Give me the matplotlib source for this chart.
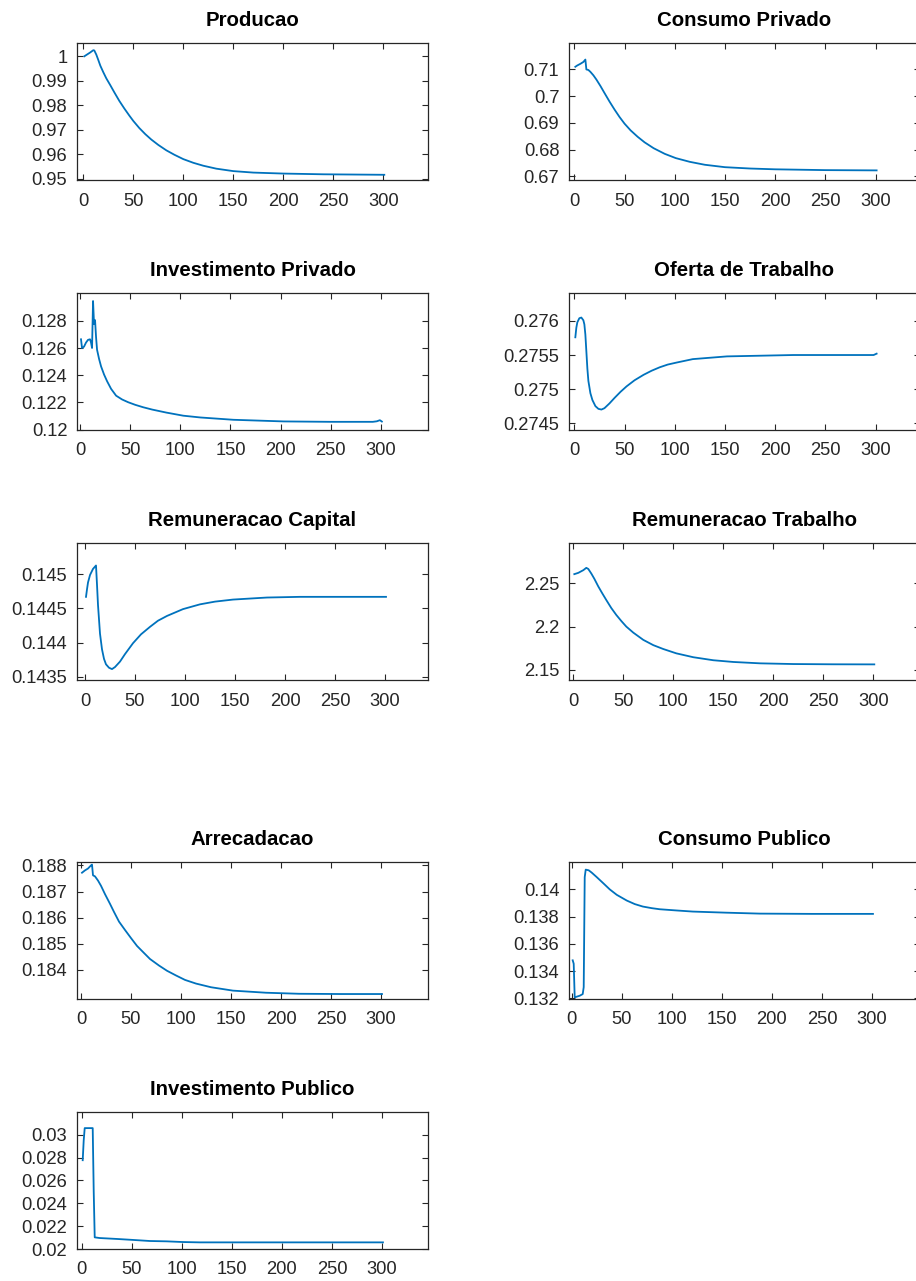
import matplotlib
matplotlib.use("Agg")
import matplotlib.pyplot as plt
from matplotlib.ticker import FixedLocator, FuncFormatter

plt.rcParams['font.family'] = ['Liberation Sans', 'DejaVu Sans']

# trajetorias simuladas (periodo, valor)
producao_t = [1, 4, 7, 10, 11, 13, 15, 17, 20, 23, 27, 31, 36, 41, 46, 50, 56, 62, 68, 75, 83, 91, 100, 110,
              120, 133, 150, 170, 200, 240, 301]
producao = [1.0000, 1.0008, 1.0016, 1.0025, 1.0024, 1.0007, 0.9985, 0.9962, 0.9935, 0.9910, 0.9882, 0.9853,
            0.9818, 0.9787, 0.9758, 0.9736, 0.9707, 0.9682, 0.9660, 0.9638, 0.9616, 0.9598, 0.9580, 0.9565,
            0.9553, 0.9541, 0.9531, 0.9525, 0.9521, 0.9518, 0.9516]

cons_priv_t = [1, 3, 6, 9, 11, 12, 14, 16, 19, 22, 26, 30, 35, 40, 45, 50, 56, 63, 70, 79, 90, 101, 115, 130,
               150, 175, 200, 250, 301]
cons_priv = [0.7110, 0.7115, 0.7121, 0.7128, 0.7137, 0.7100, 0.7098, 0.7091, 0.7078, 0.7062, 0.7038, 0.7012,
             0.6980, 0.6950, 0.6922, 0.6897, 0.6872, 0.6848, 0.6827, 0.6805, 0.6784, 0.6768, 0.6754, 0.6743,
             0.6734, 0.6729, 0.6726, 0.6723, 0.6722]

inv_priv_t = [1, 2, 4, 6, 8, 10, 11, 12, 13, 14, 15, 16, 17, 19, 21, 24, 27, 31, 36, 42, 48, 55, 63, 72, 86,
              103, 120, 153, 203, 250, 292, 296, 299, 301]
inv_priv = [0.12664, 0.12600, 0.12610, 0.12640, 0.12660, 0.12664, 0.12640, 0.12600, 0.12945, 0.12775, 0.12805,
            0.12680, 0.12587, 0.12520, 0.12465, 0.12405, 0.12356, 0.12300, 0.12250, 0.12222, 0.12202, 0.12183,
            0.12165, 0.12148, 0.12126, 0.12103, 0.12090, 0.12073, 0.12061, 0.12058, 0.12058, 0.12062, 0.12070,
            0.12060]

oferta_t = [1, 2, 3, 5, 7, 9, 10, 11, 12, 13, 14, 16, 18, 21, 24, 27, 30, 35, 40, 46, 52, 60, 69, 77, 85, 93,
            102, 118, 135, 152, 185, 218, 260, 298, 301]
oferta = [0.27576, 0.27590, 0.27598, 0.27604, 0.27605, 0.27601, 0.27595, 0.27580, 0.27555, 0.27530, 0.27512,
          0.27494, 0.27484, 0.27475, 0.27471, 0.27470, 0.27472, 0.27479, 0.27487, 0.27496, 0.27504, 0.27513,
          0.27521, 0.27527, 0.27532, 0.27536, 0.27539, 0.27544, 0.27546, 0.27548, 0.27549, 0.27550, 0.27550,
          0.27550, 0.27552]

rem_cap_t = [1, 2, 3, 5, 8, 11, 12, 13, 15, 17, 19, 21, 24, 27, 30, 35, 40, 44, 48, 56, 65, 73, 82, 90, 98,
             115, 130, 148, 182, 215, 260, 301]
rem_cap = [0.14467, 0.14478, 0.14488, 0.14499, 0.14508, 0.14513, 0.14485, 0.14455, 0.14413, 0.14390, 0.14376,
           0.14368, 0.14363, 0.14361, 0.14364, 0.14372, 0.14383, 0.14391, 0.14399, 0.14412, 0.14423, 0.14432,
           0.14439, 0.14444, 0.14449, 0.14456, 0.14460, 0.14463, 0.14466, 0.14467, 0.14467, 0.14467]

rem_trab_t = [1, 5, 10, 13, 15, 18, 21, 23, 25, 29, 33, 38, 43, 48, 53, 60, 70, 80, 90, 103, 120, 140, 160,
              187, 220, 260, 301]
rem_trab = [2.2608, 2.2623, 2.2654, 2.2681, 2.2668, 2.2615, 2.2555, 2.2510, 2.2465, 2.2385, 2.2308, 2.2215,
            2.2135, 2.2065, 2.2000, 2.1930, 2.1846, 2.1785, 2.1740, 2.1690, 2.1645, 2.1610, 2.1590, 2.1574,
            2.1566, 2.1563, 2.1562]

arrec_t = [1, 4, 7, 10, 11, 12, 14, 17, 20, 24, 29, 33, 38, 44, 50, 56, 63, 69, 78, 86, 95, 104, 115, 130, 152,
           185, 218, 260, 301]
arrec = [0.18772, 0.18781, 0.18788, 0.18800, 0.18803, 0.18762, 0.18758, 0.18742, 0.18722, 0.18690, 0.18653,
         0.18622, 0.18585, 0.18553, 0.18522, 0.18492, 0.18465, 0.18442, 0.18417, 0.18397, 0.18379, 0.18362,
         0.18348, 0.18334, 0.18321, 0.18313, 0.18309, 0.18308, 0.18308]

cons_pub_t = [1, 2, 3, 5, 8, 11, 12, 13, 14, 17, 20, 25, 32, 38, 45, 55, 63, 71, 80, 88, 105, 121, 154, 188,
              240, 301]
cons_pub = [0.13479, 0.13454, 0.13207, 0.13212, 0.13219, 0.13231, 0.13282, 0.14090, 0.14145, 0.14140, 0.14123,
            0.14090, 0.14042, 0.14000, 0.13960, 0.13918, 0.13892, 0.13874, 0.13862, 0.13854, 0.13845, 0.13837,
            0.13829, 0.13822, 0.13820, 0.13820]

inv_pub_t = [1, 2, 3, 11, 12, 13, 18, 35, 52, 68, 85, 101, 118, 200, 301]
inv_pub = [0.02777, 0.02950, 0.03058, 0.03058, 0.02503, 0.02102, 0.02096, 0.02088, 0.02079, 0.02070, 0.02067,
           0.02061, 0.02058, 0.02058, 0.02058]

x_ticks = [0, 50, 100, 150, 200, 250, 300]

panels = [
    ("Producao", producao_t, producao, [0.95, 0.96, 0.97, 0.98, 0.99, 1.0]),
    ("Consumo Privado", cons_priv_t, cons_priv, [0.67, 0.68, 0.69, 0.70, 0.71]),
    ("Investimento Privado", inv_priv_t, inv_priv, [0.120, 0.122, 0.124, 0.126, 0.128]),
    ("Oferta de Trabalho", oferta_t, oferta, [0.2745, 0.275, 0.2755, 0.276]),
    ("Remuneracao Capital", rem_cap_t, rem_cap, [0.1435, 0.144, 0.1445, 0.145]),
    ("Remuneracao Trabalho", rem_trab_t, rem_trab, [2.15, 2.2, 2.25]),
    ("Arrecadacao", arrec_t, arrec, [0.184, 0.185, 0.186, 0.187, 0.188]),
    ("Consumo Publico", cons_pub_t, cons_pub, [0.132, 0.134, 0.136, 0.138, 0.140]),
    ("Investimento Publico", inv_pub_t, inv_pub, [0.020, 0.022, 0.024, 0.026, 0.028, 0.030]),
]

# limites dos eixos de cada painel
ylims = [(0.94947, 1.00544), (0.6686, 0.7199), (0.11998, 0.13004), (0.27440, 0.27641),
         (0.14345, 0.14546), (2.1381, 2.2969), (0.18289, 0.18813), (0.13195, 0.14201), (0.02, 0.03199)]
xlims = [(-6.3, 344.7), (-5.3, 344.2), (-3, 347), (-5.3, 344.2), (-8, 343), (-4.3, 346.7),
         (-4, 347), (-2.7, 348), (-4.7, 346)]

W, H = 916, 1281
col_left = [77, 569]
row_top = [43, 293, 543, 862, 1112]
ax_w, ax_h = 351, 137

fig = plt.figure(figsize=(W / 100, H / 100), dpi=100)
fig.patch.set_facecolor("white")

edge = "#262626"
fmt = FuncFormatter(lambda v, p: "%g" % round(v, 6))

for i, (title, t, vals, yt) in enumerate(panels):
    r, c = divmod(i, 2)
    left = col_left[c] / W
    bottom = 1 - (row_top[r] + ax_h) / H
    ax = fig.add_axes([left, bottom, ax_w / W, ax_h / H])
    ax.plot(t, vals, color="#0072BD", lw=1.3)
    ax.set_xlim(*xlims[i])
    ax.set_ylim(*ylims[i])
    ax.xaxis.set_major_locator(FixedLocator(x_ticks))
    ax.yaxis.set_major_locator(FixedLocator(yt))
    ax.xaxis.set_major_formatter(fmt)
    ax.yaxis.set_major_formatter(fmt)
    ax.tick_params(direction="in", length=4, width=0.8, top=True, right=True,
                   labelsize=13.2, colors=edge, pad=7)
    ax.tick_params(axis="x", pad=9)
    for s in ax.spines.values():
        s.set_color(edge)
        s.set_linewidth(0.9)
    ax.set_title(title, fontsize=14.7, fontweight="bold", pad=12)

fig.savefig("out.png", dpi=100)
